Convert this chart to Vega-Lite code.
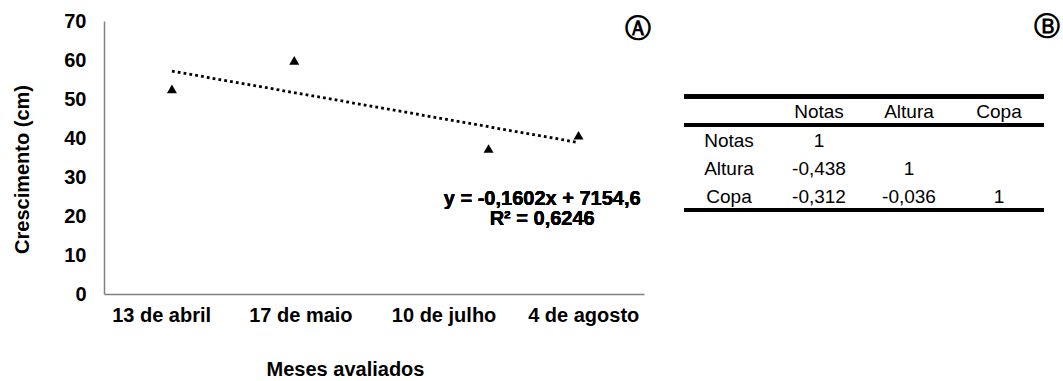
{
  "$schema": "https://vega.github.io/schema/vega-lite/v6.json",
  "padding": {"left": 12, "top": 11, "right": 5, "bottom": 2},
  "background": "white",
  "spacing": 40,
  "bounds": "flush",
  "config": {
    "view": {"stroke": null},
    "font": "Liberation Sans",
    "title": {"font": "DejaVu Sans", "fontSize": 26, "fontWeight": "bold", "color": "black"},
    "axis": {"labelOverlap": false, "labelFlush": false, "ticks": false, "grid": false}
  },
  "hconcat": [
    {
      "width": 540,
      "height": 273,
      "title": {"text": "Ⓐ", "anchor": "end", "frame": "group", "orient": "top", "baseline": "middle", "offset": -44, "dx": 7},
      "data": {"values": [
        {"data": "13 de abril", "dia": 103, "crescimento": 52.6},
        {"data": "17 de maio", "dia": 137, "crescimento": 59.9},
        {"data": "10 de julho", "dia": 191, "crescimento": 37.3},
        {"data": "4 de agosto", "dia": 216, "crescimento": 40.7}
      ]},
      "encoding": {
        "x": {"field": "dia", "type": "quantitative",
          "scale": {"domain": [84.12, 234.2], "nice": false, "zero": false},
          "axis": {
            "values": [100.0, 138.7, 178.5, 217.3],
            "labelExpr": "datum.value < 120 ? '13 de abril' : datum.value < 160 ? '17 de maio' : datum.value < 200 ? '10 de julho' : '4 de agosto'",
            "labelFlush": false, "labelOverlap": false,
            "ticks": false, "grid": false,
            "domainColor": "#808080", "domainWidth": 1.5,
            "labelFont": "Liberation Sans", "labelFontWeight": "bold", "labelFontSize": 20, "labelColor": "black",
            "labelPadding": 11.5,
            "title": "Meses avaliados", "titleFont": "Liberation Sans", "titleFontWeight": "bold", "titleFontSize": 20, "titleColor": "black",
            "titleX": 241, "titleY": 75, "titleBaseline": "middle", "titleAnchor": null, "titleAlign": "center"
          }
        },
        "y": {"field": "crescimento", "type": "quantitative",
          "scale": {"domain": [0, 70], "nice": false, "zero": true},
          "axis": {
            "values": [0, 10, 20, 30, 40, 50, 60, 70],
            "tickCount": 8,
            "labelOverlap": false, "labelFlush": false,
            "ticks": false, "grid": false,
            "domainColor": "#808080", "domainWidth": 1.5,
            "labelFont": "Liberation Sans", "labelFontWeight": "bold", "labelFontSize": 20, "labelColor": "black",
            "labelPadding": 18,
            "title": "Crescimento (cm)", "titleFont": "Liberation Sans", "titleFontWeight": "bold", "titleFontSize": 20, "titleColor": "black",
            "titleX": -82, "titleY": 148, "titleBaseline": "middle", "titleAlign": "center", "titleAngle": -90, "titleAnchor": null
          }
        }
      },
      "layer": [
        {
          "mark": {"type": "point", "shape": "triangle-up", "filled": true, "color": "black", "opacity": 1, "size": 100}
        },
        {
          "transform": [{"regression": "crescimento", "on": "dia", "extent": [103, 216]}],
          "mark": {"type": "line", "color": "black", "strokeWidth": 2.8, "strokeDash": [2.8, 3.1]}
        },
        {
          "mark": {"type": "text", "font": "Liberation Sans", "fontWeight": "bold", "fontSize": 20, "align": "center", "baseline": "middle", "lineHeight": 20, "color": "black"},
          "encoding": {
            "x": {"datum": 205.9, "type": "quantitative"},
            "y": {"datum": 24.4, "type": "quantitative"},
            "text": {"value": ["y = -0,1602x + 7154,6", "R² = 0,6246"]}
          }
        }
      ]
    },
    {
      "width": 360,
      "height": 273,
      "title": {"text": "Ⓑ", "anchor": "end", "frame": "group", "orient": "top", "baseline": "middle", "offset": -32, "dx": 16},
      "data": {"values": [
        {"linha": "cab", "coluna": "Notas", "texto": "Notas"},
        {"linha": "cab", "coluna": "Altura", "texto": "Altura"},
        {"linha": "cab", "coluna": "Copa", "texto": "Copa"},
        {"linha": "Notas", "coluna": "rotulo", "texto": "Notas"},
        {"linha": "Altura", "coluna": "rotulo", "texto": "Altura"},
        {"linha": "Copa", "coluna": "rotulo", "texto": "Copa"},
        {"linha": "Notas", "coluna": "Notas", "texto": "1"},
        {"linha": "Altura", "coluna": "Notas", "texto": "-0,438"},
        {"linha": "Altura", "coluna": "Altura", "texto": "1"},
        {"linha": "Copa", "coluna": "Notas", "texto": "-0,312"},
        {"linha": "Copa", "coluna": "Altura", "texto": "-0,036"},
        {"linha": "Copa", "coluna": "Copa", "texto": "1"}
      ]},
      "layer": [
        {
          "mark": {"type": "text", "font": "Liberation Sans", "fontSize": 19, "color": "black", "baseline": "middle", "dy": 1.5},
          "encoding": {
            "x": {"field": "coluna", "type": "nominal", "scale": {"domain": ["rotulo", "Notas", "Altura", "Copa"], "paddingInner": 0, "paddingOuter": 0}, "axis": null},
            "y": {"field": "linha", "type": "nominal", "scale": {"domain": ["cab", "Notas", "Altura", "Copa"], "range": [75.5, 189], "paddingInner": 0, "paddingOuter": 0}, "axis": null},
            "text": {"field": "texto"}
          }
        },
        {
          "mark": {"type": "rule", "color": "black", "strokeWidth": 3.5},
          "encoding": {"y": {"datum": "cab", "type": "nominal", "bandPosition": 0}}
        },
        {
          "mark": {"type": "rule", "color": "black", "strokeWidth": 3.5},
          "encoding": {"y": {"datum": "cab", "type": "nominal", "bandPosition": 1}}
        },
        {
          "mark": {"type": "rule", "color": "black", "strokeWidth": 3.5},
          "encoding": {"y": {"datum": "Copa", "type": "nominal", "bandPosition": 1}}
        }
      ]
    }
  ]
}
